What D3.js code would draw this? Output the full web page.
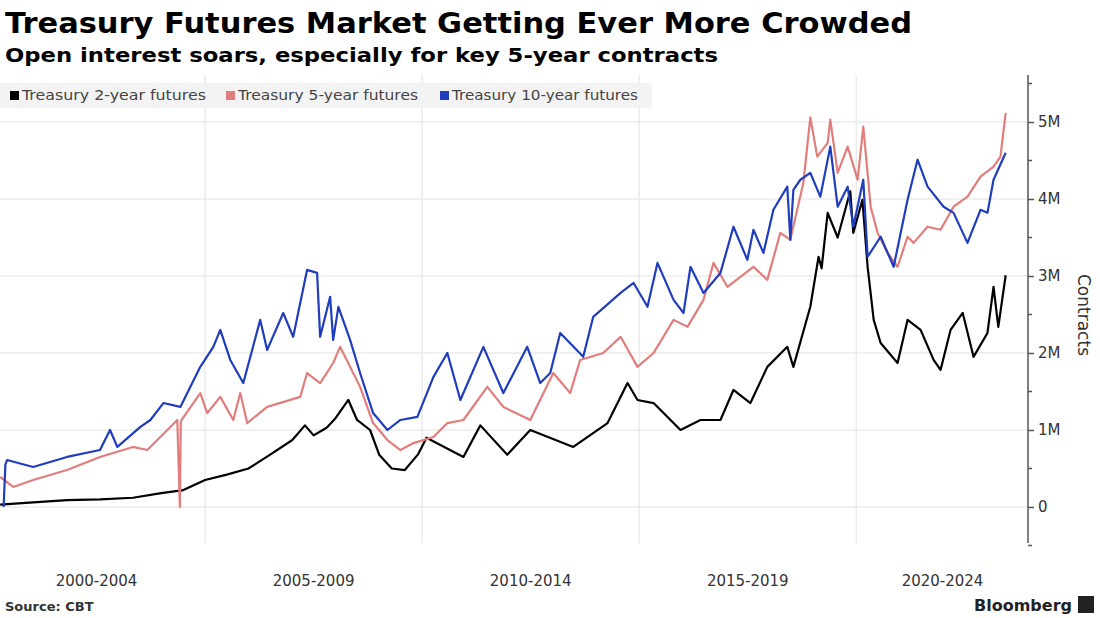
<!DOCTYPE html>
<html>
<head>
<meta charset="utf-8">
<script src="https://cdn.jsdelivr.net/npm/d3@7"></script>
<style>
  body { margin: 0; background: #fff; font-family: "DejaVu Sans", sans-serif; }
</style>
</head>
<body>
<div id="chart"></div>
<script>
// values in millions of contracts, dates as decimal years
const dates2y = [2000.28, 2001.04, 2001.82, 2002.58, 2003.34, 2003.99, 2004.5, 2005.0, 2005.5, 2006.0, 2006.5, 2007.01, 2007.3, 2007.5, 2007.8, 2008.0, 2008.3, 2008.5, 2008.8, 2009.01, 2009.3, 2009.6, 2009.9, 2010.1, 2010.95, 2011.34, 2011.96, 2012.49, 2013.48, 2014.27, 2014.73, 2014.96, 2015.33, 2015.95, 2016.41, 2016.87, 2017.17, 2017.56, 2017.95, 2018.41, 2018.55, 2018.94, 2019.13, 2019.2, 2019.34, 2019.57, 2019.86, 2019.93, 2020.14, 2020.26, 2020.4, 2020.56, 2020.95, 2021.18, 2021.48, 2021.78, 2021.94, 2022.17, 2022.45, 2022.7, 2023.02, 2023.16, 2023.27, 2023.44];
const values2y = [0.03, 0.06, 0.09, 0.10, 0.12, 0.18, 0.22, 0.35, 0.42, 0.50, 0.68, 0.87, 1.06, 0.93, 1.03, 1.15, 1.39, 1.13, 1.00, 0.68, 0.50, 0.48, 0.68, 0.90, 0.65, 1.06, 0.68, 1.00, 0.78, 1.09, 1.61, 1.39, 1.35, 1.00, 1.13, 1.13, 1.52, 1.35, 1.82, 2.08, 1.82, 2.60, 3.25, 3.10, 3.82, 3.50, 4.10, 3.56, 3.99, 3.12, 2.43, 2.13, 1.87, 2.43, 2.30, 1.91, 1.78, 2.30, 2.52, 1.95, 2.26, 2.86, 2.34, 3.01];

const dates5y = [2000.28, 2000.58, 2001.04, 2001.82, 2002.58, 2003.34, 2003.67, 2004.13, 2004.36, 2004.42, 2004.44, 2004.46, 2004.89, 2005.05, 2005.35, 2005.65, 2005.81, 2005.97, 2006.43, 2007.19, 2007.35, 2007.65, 2007.95, 2008.11, 2008.34, 2008.57, 2008.87, 2009.2, 2009.5, 2009.8, 2010.26, 2010.58, 2010.95, 2011.5, 2011.87, 2012.49, 2013.02, 2013.41, 2013.64, 2014.17, 2014.57, 2014.96, 2015.33, 2015.79, 2016.11, 2016.48, 2016.71, 2017.03, 2017.63, 2017.95, 2018.25, 2018.48, 2018.78, 2018.94, 2019.1, 2019.34, 2019.4, 2019.57, 2019.8, 2020.03, 2020.16, 2020.33, 2020.49, 2020.72, 2020.95, 2021.18, 2021.32, 2021.64, 2021.94, 2022.24, 2022.56, 2022.86, 2023.16, 2023.32, 2023.44];
const values5y = [0.39, 0.26, 0.35, 0.48, 0.65, 0.78, 0.74, 1.00, 1.13, 0.00, 1.10, 1.13, 1.48, 1.22, 1.43, 1.13, 1.48, 1.09, 1.30, 1.43, 1.74, 1.61, 1.87, 2.08, 1.82, 1.56, 1.09, 0.87, 0.74, 0.83, 0.91, 1.09, 1.13, 1.56, 1.30, 1.13, 1.74, 1.48, 1.91, 2.00, 2.21, 1.82, 2.00, 2.43, 2.34, 2.69, 3.17, 2.86, 3.12, 2.95, 3.56, 3.47, 4.21, 5.06, 4.55, 4.73, 5.03, 4.34, 4.68, 4.25, 4.94, 3.90, 3.56, 3.30, 3.12, 3.51, 3.43, 3.64, 3.60, 3.90, 4.03, 4.29, 4.42, 4.55, 5.12];

const dates10y = [2000.36, 2000.4, 2000.44, 2001.04, 2001.82, 2002.58, 2002.81, 2002.98, 2003.51, 2003.74, 2004.04, 2004.43, 2004.89, 2005.19, 2005.35, 2005.58, 2005.88, 2006.27, 2006.43, 2006.8, 2007.03, 2007.35, 2007.58, 2007.65, 2007.88, 2007.95, 2008.07, 2008.34, 2008.57, 2008.87, 2009.2, 2009.5, 2009.89, 2010.26, 2010.58, 2010.88, 2011.41, 2011.87, 2012.42, 2012.72, 2012.95, 2013.18, 2013.71, 2013.94, 2014.57, 2014.87, 2015.19, 2015.42, 2015.79, 2016.02, 2016.18, 2016.48, 2016.87, 2017.17, 2017.49, 2017.63, 2017.86, 2018.09, 2018.41, 2018.48, 2018.55, 2018.71, 2018.94, 2019.17, 2019.4, 2019.57, 2019.8, 2019.93, 2020.16, 2020.26, 2020.56, 2020.86, 2021.18, 2021.41, 2021.64, 2022.01, 2022.24, 2022.56, 2022.86, 2023.02, 2023.16, 2023.44];
const values10y = [0.00, 0.55, 0.61, 0.52, 0.65, 0.74, 1.00, 0.78, 1.04, 1.13, 1.35, 1.30, 1.82, 2.08, 2.30, 1.91, 1.61, 2.43, 2.04, 2.52, 2.21, 3.08, 3.04, 2.21, 2.73, 2.17, 2.60, 2.17, 1.74, 1.22, 1.00, 1.13, 1.17, 1.69, 2.00, 1.39, 2.08, 1.48, 2.08, 1.61, 1.74, 2.26, 1.95, 2.47, 2.78, 2.91, 2.60, 3.17, 2.69, 2.52, 3.12, 2.78, 3.04, 3.64, 3.21, 3.60, 3.30, 3.86, 4.16, 3.47, 4.12, 4.25, 4.34, 4.03, 4.68, 3.90, 4.16, 3.64, 4.25, 3.25, 3.51, 3.12, 3.99, 4.51, 4.16, 3.90, 3.82, 3.43, 3.86, 3.82, 4.25, 4.60];

const seriesNames = ["Treasury 2-year futures", "Treasury 5-year futures", "Treasury 10-year futures"];
const seriesColors = ["#000000", "#e27d7d", "#1f3dbd"];
const periodLabels = ["2000-2004", "2005-2009", "2010-2014", "2015-2019", "2020-2024"];
const periodStarts = [2000, 2005, 2010, 2015, 2020];
const yTicks = [0, 1, 2, 3, 4, 5];
const yTickLabels = ["0", "1M", "2M", "3M", "4M", "5M"];

const width = 1100, height = 618;
const svg = d3.select('#chart').append('svg')
    .attr('width', width).attr('height', height);

const x = d3.scaleLinear().domain([2000, 2024]).range([-12, 1030]);
const y = d3.scaleLinear().domain([0, 5]).range([507, 122]);
const plotRight = 1028, plotTop = 75, plotBottom = 543;

// titles
svg.append('text').attr('x', 5).attr('y', 33)
    .attr('font-size', 28).attr('font-weight', 'bold').attr('fill', '#000')
    .attr('textLength', 907).attr('lengthAdjust', 'spacingAndGlyphs')
    .text('Treasury Futures Market Getting Ever More Crowded');
svg.append('text').attr('x', 5).attr('y', 62)
    .attr('font-size', 19).attr('font-weight', 'bold').attr('fill', '#000')
    .attr('textLength', 713).attr('lengthAdjust', 'spacingAndGlyphs')
    .text('Open interest soars, especially for key 5-year contracts');

// grid
svg.append('g').selectAll('line').data(yTicks).enter().append('line')
    .attr('x1', 0).attr('x2', plotRight)
    .attr('y1', d => y(d)).attr('y2', d => y(d))
    .attr('stroke', '#ebebeb').attr('stroke-width', 1.5);
svg.append('g').selectAll('line').data(periodStarts.slice(1)).enter().append('line')
    .attr('x1', d => x(d)).attr('x2', d => x(d))
    .attr('y1', plotTop).attr('y2', plotBottom)
    .attr('stroke', '#ebebeb').attr('stroke-width', 1.5);

// legend
const legend = svg.append('g');
legend.append('rect').attr('x', 0).attr('y', 83).attr('width', 652).attr('height', 25).attr('fill', '#f3f3f3');
const legendX = [10, 226, 440];
const legendW = [184, 180, 186];
seriesNames.forEach((name, i) => {
    legend.append('rect').attr('x', legendX[i]).attr('y', 91).attr('width', 9).attr('height', 9).attr('fill', seriesColors[i]);
    legend.append('text').attr('x', legendX[i] + 12).attr('y', 100)
        .attr('font-size', 14).attr('fill', '#444')
        .attr('textLength', legendW[i]).attr('lengthAdjust', 'spacingAndGlyphs').text(name);
});

// lines
const line = d3.line().x(d => x(d[0])).y(d => y(d[1]));
const series = [
    d3.zip(dates2y, values2y),
    d3.zip(dates5y, values5y),
    d3.zip(dates10y, values10y)
];
series.forEach((s, i) => {
    svg.append('path').datum(s)
        .attr('d', line).attr('fill', 'none')
        .attr('stroke', seriesColors[i]).attr('stroke-width', 2.2)
        .attr('stroke-linejoin', 'round');
});

// right axis
const yAxis = d3.axisRight(y)
    .tickValues(yTicks).tickFormat((d, i) => yTickLabels[i]).tickSize(6).tickPadding(4);
const axisG = svg.append('g').attr('transform', `translate(${plotRight},0)`).call(yAxis);
axisG.select('.domain').remove();
axisG.append('line').attr('x1', 0).attr('x2', 0).attr('y1', plotTop).attr('y2', plotBottom)
    .attr('stroke', '#555').attr('stroke-width', 1.5);
axisG.selectAll('.tick line').attr('stroke', '#555').attr('stroke-width', 1.5);
axisG.selectAll('.tick text').attr('font-size', 15).attr('fill', '#333')
    .attr('font-family', '"DejaVu Sans", sans-serif');
axisG.selectAll('.minor').data(d3.range(-0.5, 5.6, 1)).enter().append('line')
    .attr('x1', 0).attr('x2', 4).attr('y1', d => y(d)).attr('y2', d => y(d))
    .attr('stroke', '#555').attr('stroke-width', 1.5);

svg.append('text').attr('transform', 'translate(1078,315) rotate(90)')
    .attr('text-anchor', 'middle').attr('font-size', 17).attr('fill', '#333')
    .text('Contracts');

// period labels
const xEnd = 2023.97;
svg.append('g').selectAll('text').data(periodLabels).enter().append('text')
    .attr('x', (d, i) => x((periodStarts[i] + (i < 4 ? periodStarts[i] + 5 : xEnd)) / 2))
    .attr('y', 586).attr('text-anchor', 'middle')
    .attr('font-size', 15).attr('fill', '#333').text(d => d);

// footer
svg.append('text').attr('x', 5).attr('y', 611)
    .attr('font-size', 13).attr('font-weight', 'bold').attr('fill', '#333').text('Source: CBT');
svg.append('text').attr('x', 1072).attr('y', 611).attr('text-anchor', 'end')
    .attr('font-size', 16).attr('font-weight', 'bold').attr('fill', '#222').text('Bloomberg');
svg.append('rect').attr('x', 1078).attr('y', 596).attr('width', 16).attr('height', 17).attr('fill', '#222');
</script>
</body>
</html>
